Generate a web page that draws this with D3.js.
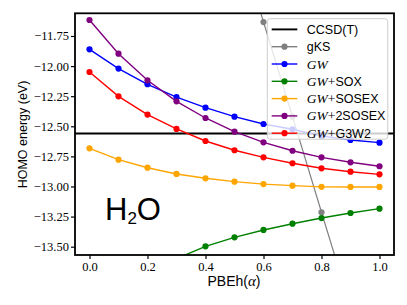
<!DOCTYPE html>
<html><head><meta charset="utf-8">
<script src="https://cdn.jsdelivr.net/npm/d3@7"></script>
<style>body{margin:0;background:#fff}svg{display:block}</style>
</head><body><div id="chart"></div>
<script>
const alpha = [0.0,0.1,0.2,0.3,0.4,0.5,0.6,0.7,0.8,0.9,1.0];
const ccsdt = -12.56;
const gKS    = [-7.0,-7.75,-8.5,-9.25,-10.05,-10.84,-11.634,-12.42,-13.214,-14.0,-14.8];
const GW     = [-11.861,-12.021,-12.151,-12.257,-12.345,-12.420,-12.481,-12.525,-12.58,-12.614,-12.636];
const SOX    = [-14.2,-13.95,-13.75,-13.60,-13.497,-13.422,-13.361,-13.309,-13.262,-13.220,-13.184];
const SOSEX  = [-12.683,-12.777,-12.844,-12.896,-12.932,-12.960,-12.980,-12.993,-13.003,-13.004,-13.004];
const SOSEX2 = [-11.617,-11.897,-12.118,-12.293,-12.431,-12.545,-12.633,-12.703,-12.758,-12.799,-12.832];
const G3W2   = [-12.049,-12.251,-12.403,-12.522,-12.622,-12.699,-12.758,-12.807,-12.849,-12.877,-12.899];
const xTicks = [0.0,0.2,0.4,0.6,0.8,1.0];
const yTicks = [-11.75,-12.00,-12.25,-12.50,-12.75,-13.00,-13.25,-13.50];
const seriesNames = ["gKS","GW","GW+SOX","GW+SOSEX","GW+2SOSEX","GW+G3W2"];
const seriesVals = [gKS,GW,SOX,SOSEX,SOSEX2,G3W2];
const seriesColors = ["gray","blue","green","orange","purple","red"];

const W=407,H=305;
const L=75,R=394,T=13.3,B=255;
const x=d3.scaleLinear().domain([-0.05,1.05]).range([L,R]);
const y=d3.scaleLinear().domain([-13.569,-11.5615]).range([B,T]);

const svg=d3.select("#chart").append("svg").attr("width",W).attr("height",H);
svg.append("defs").append("clipPath").attr("id","clip")
  .append("rect").attr("x",L).attr("y",T).attr("width",R-L).attr("height",B-T);

const plot=svg.append("g").attr("clip-path","url(#clip)");
plot.append("line").attr("x1",L).attr("x2",R).attr("y1",y(ccsdt)).attr("y2",y(ccsdt))
  .attr("stroke","black").attr("stroke-width",1.9);

const line=d3.line().x((d,i)=>x(alpha[i])).y(d=>y(d));
seriesVals.forEach((vals,k)=>{
  const g=plot.append("g");
  g.append("path").attr("d",line(vals)).attr("fill","none")
   .attr("stroke",seriesColors[k]).attr("stroke-width",k===0?1.2:1.4);
  g.selectAll("circle").data(vals).enter().append("circle")
   .attr("cx",(d,i)=>x(alpha[i])).attr("cy",d=>y(d)).attr("r",3.1)
   .attr("fill",seriesColors[k]);
});

// axes
const serif="'Liberation Serif','DejaVu Serif',serif";
const sans="'Liberation Sans','DejaVu Sans',sans-serif";
const xa=svg.append("g").attr("transform",`translate(0,${B})`)
  .call(d3.axisBottom(x).tickValues(xTicks).tickFormat(d3.format(".1f")).tickSize(4).tickPadding(3));
const ya=svg.append("g").attr("transform",`translate(${L},0)`)
  .call(d3.axisLeft(y).tickValues(yTicks).tickFormat(d=>d3.format(".2f")(d).replace("-","\u2212")).tickSize(4).tickPadding(2));
[xa,ya].forEach(a=>{
  a.select(".domain").remove();
  a.selectAll("line").attr("stroke","black").attr("stroke-width",1.2);
  a.selectAll("text").attr("font-family",serif).attr("font-size","12.5px").attr("fill","black");
});
svg.append("rect").attr("x",L).attr("y",T).attr("width",R-L).attr("height",B-T)
  .attr("fill","none").attr("stroke","black").attr("stroke-width",1.8);

// labels
const xl=svg.append("text").attr("x",234).attr("y",286).attr("text-anchor","middle")
  .attr("font-family",sans).attr("font-size","14px");
xl.append("tspan").text("PBEh(");
xl.append("tspan").attr("font-family",serif).attr("font-style","italic").attr("font-size","15px").text("\u03b1");
xl.append("tspan").text(")");
svg.append("text").attr("transform","translate(26.5,134.5) rotate(-90)").attr("text-anchor","middle")
  .attr("font-family",sans).attr("font-size","12.5px").text("HOMO energy (eV)");

// H2O annotation
const ht=svg.append("text").attr("x",105).attr("y",220).attr("font-family",sans).attr("font-size","31px");
ht.append("tspan").text("H");
ht.append("tspan").attr("font-size","17px").attr("dy",4).text("2");
ht.append("tspan").attr("dy",-4).text("O");

// legend
const lg=svg.append("g");
lg.append("rect").attr("x",267.3).attr("y",18.7).attr("width",120.5).attr("height",120.5).attr("rx",3)
  .attr("fill","white").attr("fill-opacity",0.8).attr("stroke","#cccccc").attr("stroke-width",1);
const entries=[{name:"CCSD(T)",color:"black",marker:false}].concat(
  seriesNames.map((n,i)=>({name:n,color:seriesColors[i],marker:true})));
entries.forEach((e,i)=>{
  const cy=29.4+i*17.3;
  lg.append("line").attr("x1",271.7).attr("x2",297.3).attr("y1",cy).attr("y2",cy)
    .attr("stroke",e.color).attr("stroke-width",e.marker?1.4:1.9);
  if(e.marker) lg.append("circle").attr("cx",284.5).attr("cy",cy).attr("r",3.1).attr("fill",e.color);
  const t=lg.append("text").attr("x",306.8).attr("y",cy+4.5).attr("font-family",sans).attr("font-size","12.5px");
  if(e.name.startsWith("GW")){
    t.append("tspan").attr("font-family",serif).attr("font-style","italic").attr("font-size","13.5px").text("GW");
    const rest=e.name.slice(2);
    if(rest){
      t.append("tspan").attr("font-family",serif).attr("font-size","13.5px").text("+");
      t.append("tspan").text(rest.slice(1));
    }
  } else t.text(e.name);
});
</script></body></html>
